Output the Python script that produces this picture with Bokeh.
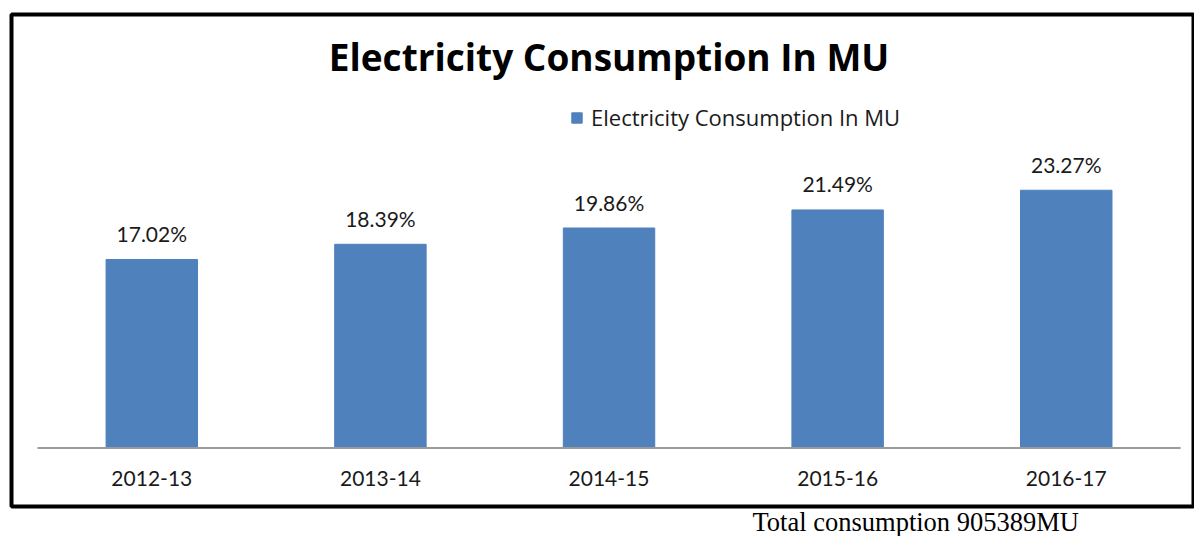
from bokeh.plotting import figure
from bokeh.models import ColumnDataSource, Range1d, Label, Legend, LegendItem, Title
from bokeh.core.properties import value
from bokeh.embed import file_html
from bokeh.resources import INLINE

# ---- data ----
categories = ["2012-13", "2013-14", "2014-15", "2015-16", "2016-17"]
consumption_pct = [17.02, 18.39, 19.86, 21.49, 23.27]
pct_labels = ["17.02%", "18.39%", "19.86%", "21.49%", "23.27%"]
series_name = "Electricity Consumption In MU"
chart_title = "Electricity Consumption In MU"
footnote = "Total consumption 905389MU"

BAR = "#4F81BD"
TXT = "#1a1a1a"
FONT = "Lato"
FONT2 = "Open Sans"

n = len(categories)
xpos = [i + 0.5 for i in range(n)]
src = ColumnDataSource(dict(x=xpos, top=consumption_pct, cat=categories, lab=pct_labels))

p = figure(
    frame_width=1183, frame_height=492,
    x_range=Range1d(-0.1137, 5.061), y_range=Range1d(-5.275, 39.13),
    x_axis_location=None, y_axis_location=None,
    toolbar_location=None, output_backend="svg",
    min_border_left=11, min_border_right=0, min_border_top=14, min_border_bottom=30,
)
p.grid.visible = False
p.outline_line_color = "black"
p.outline_line_width = 4
p.background_fill_color = "white"
p.border_fill_color = "white"

bars = p.vbar(x="x", top="top", width=0.40, bottom=0, source=src,
              fill_color=BAR, line_color=BAR)

# baseline axis line
p.segment(x0=[0], y0=[0], x1=[n], y1=[0], line_color="#9a9a9a", line_width=2)

# data labels
p.text(x="x", y="top", text="lab", source=src, text_align="center",
       text_baseline="alphabetic", y_offset=-26, text_color=TXT,
       text_font=value(FONT), text_font_size="21px")

# category labels
p.text(x="x", y=0, text="cat", source=src, text_align="center",
       text_baseline="alphabetic", y_offset=30, text_color=TXT,
       text_font=value(FONT), text_font_size="21px")

# chart title inside frame
p.add_layout(Label(x=n / 2, y=35.3, text=chart_title, text_align="center",
                   text_baseline="alphabetic", text_font=FONT2,
                   text_font_style="bold", text_font_size="37px", text_color="black"))

# legend
legend = Legend(items=[LegendItem(label=series_name, renderers=[bars])],
                location=(559, 374), orientation="horizontal",
                border_line_color=None, background_fill_alpha=0,
                padding=0, margin=0, spacing=0,
                glyph_width=13, glyph_height=13, label_standoff=8,
                label_text_font=FONT2, label_text_font_size="22px",
                label_text_color=TXT)
p.add_layout(legend, "center")

# footnote below frame
p.add_layout(Title(text=footnote, align="left", offset=741, standoff=0,
                   vertical_align="top", text_line_height=1.0,
                   text_font="Liberation Serif", text_font_style="normal",
                   text_font_size="26.5px", text_color="black"), "below")

open("out.html", "w").write(file_html(p, INLINE))
